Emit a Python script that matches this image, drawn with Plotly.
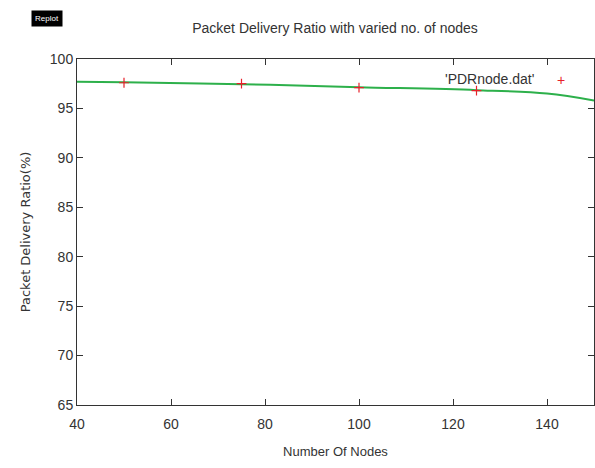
import plotly.graph_objects as go

# Measured points
nodes = [50, 75, 100, 125]
pdr = [97.6, 97.5, 97.1, 96.8]

# Smoothed curve
curve_nodes = [40, 50, 75, 100, 125, 140, 150]
curve_pdr = [97.7, 97.65, 97.45, 97.15, 96.85, 96.5, 95.8]

x_ticks = [40, 60, 80, 100, 120, 140]
y_ticks = [65, 70, 75, 80, 85, 90, 95, 100]

txt = "#333333"
fig = go.Figure()
fig.add_trace(go.Scatter(x=curve_nodes, y=curve_pdr, mode="lines", line=dict(color="#2db04b", width=2, shape="spline"),
                         showlegend=False, hoverinfo="skip"))
fig.add_trace(go.Scatter(x=nodes, y=pdr, mode="markers", name="'PDRnode.dat'", hoverinfo="skip",
                         marker=dict(symbol="cross-thin", size=7, color="#e8202a", line=dict(color="#e8202a", width=1.2)),
                         showlegend=False))

axis_common = dict(showline=True, linecolor="#333333", linewidth=1, mirror="ticks", ticks="inside",
                   ticklen=6, tickcolor="#333333", showgrid=False, zeroline=False,
                   tickfont=dict(family="Liberation Sans, Arial", size=14, color=txt))
fig.update_xaxes(range=[40, 150], tickvals=x_ticks, **axis_common, ticklabelstandoff=6,
                 title=dict(text="Number Of Nodes", font=dict(family="Liberation Sans, Arial", size=13, color=txt), standoff=16))
fig.update_yaxes(range=[65, 100], tickvals=y_ticks, **axis_common,
                 title=dict(text="Packet Delivery Ratio(%)", font=dict(family="DejaVu Sans", size=13, color=txt), standoff=16))

fig.update_layout(
    width=595, height=468, margin=dict(l=77, r=1, t=59, b=63),
    paper_bgcolor="white", plot_bgcolor="white",
    title=dict(text="Packet Delivery Ratio with varied no. of nodes", x=0.563, xanchor="center", y=0.94, yanchor="middle",
               font=dict(family="Liberation Sans, Arial", size=14, color=txt)),
    annotations=[
        dict(text="'PDRnode.dat'", xref="paper", yref="paper", x=0.888, y=0.942, xanchor="right", yanchor="middle",
             showarrow=False, font=dict(family="Liberation Sans, Arial", size=14, color=txt)),
        dict(text="+", xref="paper", yref="paper", x=0.937, y=0.94, xanchor="center", yanchor="middle",
             showarrow=False, font=dict(family="Liberation Sans, Arial", size=14, color="#e8202a")),
        dict(text="Replot", xref="paper", yref="paper", x=-0.058, y=1.118, xanchor="center", yanchor="middle",
             showarrow=False, bgcolor="black", borderpad=3,
             font=dict(family="Liberation Sans, Arial", size=8, color="white")),
    ],
)

fig.write_html("out.html")
